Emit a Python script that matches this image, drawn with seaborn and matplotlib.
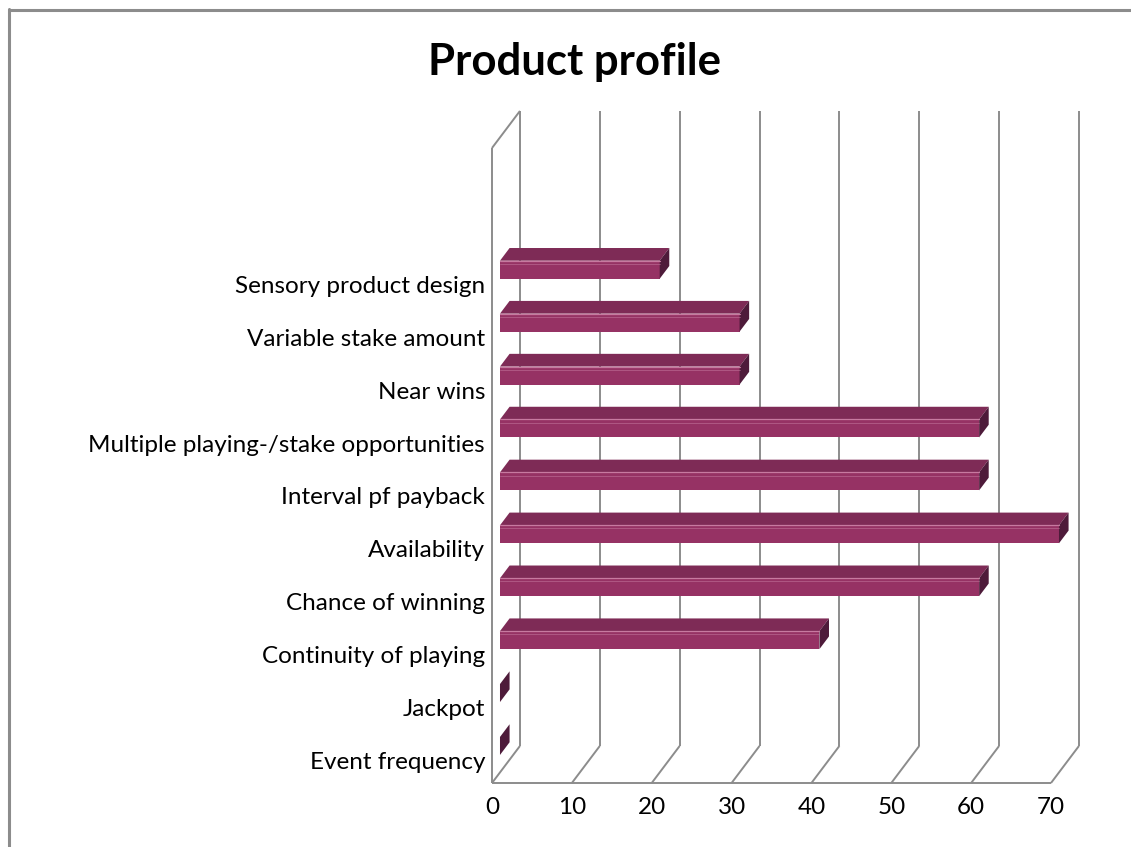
import matplotlib
matplotlib.use("Agg")
import matplotlib.pyplot as plt
import matplotlib.transforms as mtransforms
from matplotlib.patches import Polygon
from matplotlib.lines import Line2D
import seaborn as sns
import pandas as pd
import numpy as np

# ---- data ----
categories = ["Sensory product design", "Variable stake amount", "Near wins",
              "Multiple playing-/stake opportunities", "Interval pf payback",
              "Availability", "Chance of winning", "Continuity of playing",
              "Jackpot", "Event frequency"]
values = [20, 30, 30, 60, 60, 70, 60, 40, 0, 0]
empty_slots = ["", " "]          # two unused category slots at the top
x_ticks = [0, 10, 20, 30, 40, 50, 60, 70]
title = "Product profile"

# ---- style ----
sns.set_theme(style="white")
plt.rcParams["font.family"] = ["Lato", "DejaVu Sans"]

FRONT = "#963264"
TOP = "#7e2b56"
CAP = "#4e1b3a"
HILITE = "#c77aa0"
GRID = "#8c8c8c"

W, H = 1131, 847
fig = plt.figure(figsize=(W / 100, H / 100), dpi=100)

# depth geometry (data units)
DX, DY = 3.5, -0.7          # back wall offset
BX0, BY0 = 1.0, -0.2        # bar front-face offset
BX1, BY1 = 2.2, -0.44       # bar back-face offset
BH = 0.34                   # bar thickness (slots)

n_slots = len(empty_slots) + len(categories)
xmax = 73.6
ytop = -0.5 + DY - 0.05
px_per_x = (1051 - 492) / 70.0
slot_px = (783 - 148) / n_slots
left_px = 492
right_px = left_px + xmax * px_per_x
bottom_px = 783
top_px = 148 - (-0.5 - ytop) * slot_px
ax = fig.add_axes([left_px / W, 1 - bottom_px / H,
                   (right_px - left_px) / W, (bottom_px - top_px) / H])

df = pd.DataFrame({"cat": categories, "val": values})
order = empty_slots + categories
sns.barplot(data=df, x="val", y="cat", order=order, orient="h",
            width=BH, color=FRONT, saturation=1, ax=ax, zorder=3,
            edgecolor="none")

shift = mtransforms.Affine2D().translate(BX0, BY0) + ax.transData
for p in ax.patches:
    p.set_transform(shift)
    p.set_facecolor(FRONT)
    p.set_zorder(3)

ax.set_xlim(0, xmax)
ax.set_ylim(n_slots - 0.5, ytop)
ax.set_xticks(x_ticks)
ax.set_xticklabels([str(t) for t in x_ticks])
ax.set_xlabel("")
ax.set_ylabel("")
for s in ax.spines.values():
    s.set_visible(False)
ax.tick_params(axis="x", length=0, pad=10, labelsize=17.5, colors="black")
ax.tick_params(axis="y", length=0, pad=5, labelsize=17.5, colors="black")
off = mtransforms.ScaledTranslation(0, -0.04, fig.dpi_scale_trans)
for lab in ax.get_yticklabels():
    lab.set_transform(lab.get_transform() + off)

# ---- 3D frame: floor, back wall, left wall ----
yfloor = n_slots - 0.5
ytopf = -0.5
kw = dict(color=GRID, lw=1.4, clip_on=False, zorder=1, solid_capstyle="butt")
ax.plot([0, 70], [yfloor, yfloor], **kw)
for t in x_ticks:
    ax.plot([t, t + DX], [yfloor, yfloor + DY], **kw)
    ax.plot([t + DX, t + DX], [yfloor + DY, ytopf + DY], **kw)
ax.plot([0, 0], [yfloor, ytopf], **kw)
ax.plot([0, DX], [ytopf, ytopf + DY], **kw)

# ---- 3D bar top faces and end caps ----
for cat, v in zip(categories, values):
    pos = order.index(cat)
    c0 = pos + BY0
    c1 = pos + BY1
    top = Polygon([(BX0, c0 - BH / 2), (v + BX0, c0 - BH / 2),
                   (v + BX1, c1 - BH / 2), (BX1, c1 - BH / 2)],
                  closed=True, facecolor=TOP, edgecolor="none", zorder=4)
    ax.add_patch(top)
    cap = Polygon([(v + BX0, c0 + BH / 2), (v + BX0, c0 - BH / 2),
                   (v + BX1, c1 - BH / 2), (v + BX1, c1 + BH / 2)],
                  closed=True, facecolor=CAP, edgecolor="none", zorder=5)
    ax.add_patch(cap)
    if v > 0:
        ax.plot([BX0, v + BX0], [c0 - BH / 2, c0 - BH / 2], color=HILITE,
                lw=0.9, zorder=6)
        ax.plot([BX0, v + BX0], [c0 - BH / 2 + 0.06, c0 - BH / 2 + 0.06],
                color=HILITE, lw=0.6, alpha=0.6, zorder=6)

# ---- title ----
fig.text(574 / W, 1 - 62 / H, title, ha="center", va="center",
         fontsize=31.5, fontweight="bold", color="black")

# ---- chart border (left and top) ----
fig.add_artist(Line2D([9 / W, 9 / W], [0, 1 - 9 / H], transform=fig.transFigure,
                      color=GRID, lw=2.2))
fig.add_artist(Line2D([9 / W, 1], [1 - 10 / H, 1 - 10 / H],
                      transform=fig.transFigure, color=GRID, lw=2.2))

fig.savefig("out.png", dpi=100)
